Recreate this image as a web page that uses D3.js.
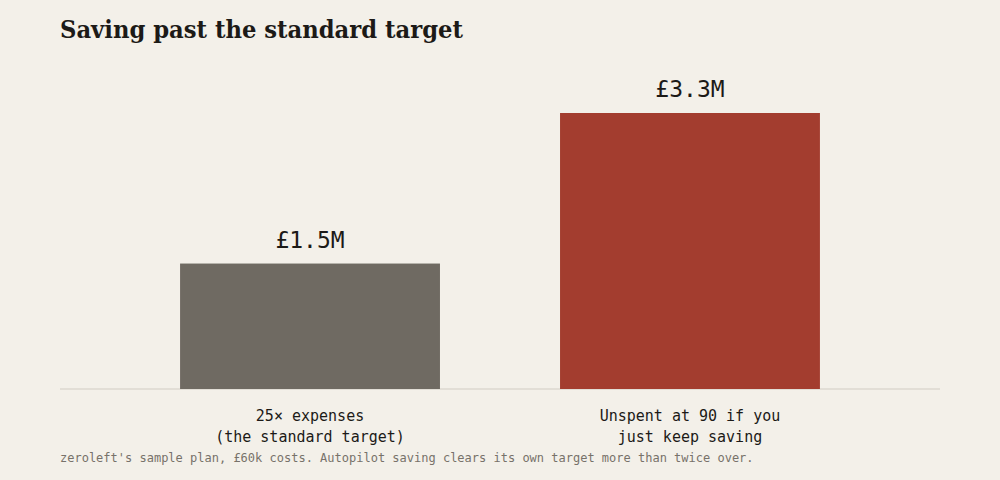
<!DOCTYPE html>
<html lang="en">
<head>
    <meta charset="utf-8" />
    <title>Saving past the standard target</title>
    <script src="https://cdnjs.cloudflare.com/ajax/libs/d3/7.8.5/d3.min.js"></script>
    <style>
        html, body { margin: 0; padding: 0; background: #f3f0e9; }
        .title { font-family: "DejaVu Serif", serif; font-weight: bold; fill: #1c1a17; }
        .mono { font-family: "DejaVu Sans Mono", "Liberation Mono", monospace; }
    </style>
</head>
<body>
<div id="chart"></div>
<script>
    // data
    const categories = ["25× expenses|(the standard target)", "Unspent at 90 if you|just keep saving"];
    const values = [1.5, 3.3];           // £ millions
    const valueLabels = ["£1.5M", "£3.3M"];
    const colors = ["#6f6a62", "#a33d2f"];

    const width = 1000, height = 480;
    const margin = { top: 113, right: 60, bottom: 91, left: 60 };

    const svg = d3.select("#chart").append("svg")
        .attr("width", width)
        .attr("height", height);

    svg.append("rect").attr("width", width).attr("height", height).attr("fill", "#f3f0e9");

    svg.append("text")
        .attr("class", "title")
        .attr("x", 60)
        .attr("y", 38)
        .attr("textLength", 403)
        .attr("lengthAdjust", "spacingAndGlyphs")
        .style("font-size", "25px")
        .text("Saving past the standard target");

    const x = d3.scaleBand()
        .domain(d3.range(values.length))
        .range([margin.left, width - margin.right])
        .padding(0.316);

    const y = d3.scaleLinear()
        .domain([0, d3.max(values)])
        .range([height - margin.bottom, margin.top]);

    // baseline
    svg.append("line")
        .attr("x1", margin.left).attr("x2", width - margin.right)
        .attr("y1", y(0)).attr("y2", y(0))
        .attr("stroke", "#dcd8cf")
        .attr("stroke-width", 1.5);

    svg.selectAll("rect.bar")
        .data(values)
        .enter()
        .append("rect")
        .attr("class", "bar")
        .attr("x", (d, i) => x(i))
        .attr("y", d => y(d))
        .attr("width", x.bandwidth())
        .attr("height", d => y(0) - y(d))
        .attr("fill", (d, i) => colors[i]);

    svg.selectAll("text.value")
        .data(values)
        .enter()
        .append("text")
        .attr("class", "value mono")
        .attr("x", (d, i) => x(i) + x.bandwidth() / 2)
        .attr("y", d => y(d) - 16)
        .attr("text-anchor", "middle")
        .attr("fill", "#1c1a17")
        .style("font-size", "23px")
        .text((d, i) => valueLabels[i]);

    // category labels, two lines each
    const cat = svg.selectAll("text.cat")
        .data(categories)
        .enter()
        .append("text")
        .attr("class", "cat mono")
        .attr("text-anchor", "middle")
        .attr("fill", "#1c1a17")
        .style("font-size", "15px");

    cat.selectAll("tspan")
        .data((d, i) => d.split("|").map(t => ({ t, i })))
        .enter()
        .append("tspan")
        .attr("x", d => x(d.i) + x.bandwidth() / 2)
        .attr("y", (d, j) => y(0) + 32 + j * 21)
        .text(d => d.t);

    svg.append("text")
        .attr("class", "mono")
        .attr("x", 60)
        .attr("y", 462)
        .attr("fill", "#77726a")
        .style("font-size", "12px")
        .text("zeroleft's sample plan, £60k costs. Autopilot saving clears its own target more than twice over.");
</script>
</body>
</html>
